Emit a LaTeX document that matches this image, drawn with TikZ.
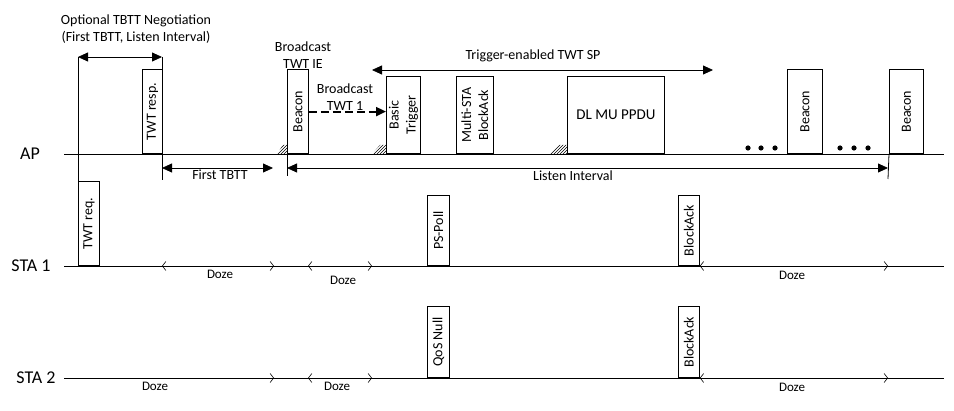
\documentclass[tikz,border=0pt]{standalone}
\usepackage{fontspec}
\setmainfont{Carlito}
\usetikzlibrary{arrows.meta,patterns}

\begin{document}
\begin{tikzpicture}[x=1pt, y=-1pt, line width=0.8pt,
	font=\fontsize{14}{17}\selectfont,
	pktbox/.style={draw, inner sep=0pt, anchor=south west},
	vtext/.style={rotate=90, inner sep=0pt, align=center},
	rowlbl/.style={font=\fontsize{18}{20}\selectfont, inner sep=0pt},
	dozelbl/.style={font=\fontsize{13}{15}\selectfont, inner sep=0pt},
	span/.style={{Triangle[length=10pt,width=9pt]}-{Triangle[length=10pt,width=9pt]}},
	doze/.style={{Straight Barb[length=3.5pt,width=9pt]}-{Straight Barb[length=3.5pt,width=9pt]}, line width=0.6pt},
	bcast/.style={-{Triangle[length=10pt,width=9pt]}, line width=2pt, dash pattern=on 8pt off 4pt},
	hatch/.style={pattern=north east lines}]
	\useasboundingbox (0,0) rectangle (954,411);

	% rows
	\node[rowlbl] (ap) at (30,154) {AP};
	\node[rowlbl] (sta1) at (31,266) {STA 1};
	\node[rowlbl] (sta2) at (36,378) {STA 2};
	\coordinate (apL) at (64,154);   \coordinate (apR) at (944,154);
	\coordinate (s1L) at (64,266);   \coordinate (s1R) at (944,266);
	\coordinate (s2L) at (64,378);   \coordinate (s2R) at (944,378);
	\draw (apL) -- (apR);
	\draw (s1L) -- (s1R);
	\draw (s2L) -- (s2R);

	% AP frames
	\node[pktbox, minimum width=20, minimum height=84] (resp) at (142,154) {};
	\node[vtext] at (resp) {TWT resp.};
	\node[pktbox, minimum width=21, minimum height=84] (bcn1) at (287,154) {};
	\node[vtext] at (bcn1) {Beacon};
	\node[pktbox, minimum width=34, minimum height=77] (trig) at (386,154) {};
	\node[vtext] at (trig) {Basic\\Trigger};
	\node[pktbox, minimum width=37, minimum height=77] (msba) at (456,154) {};
	\node[vtext] at (msba) {Multi-STA\\BlockAck};
	\node[pktbox, minimum width=97, minimum height=77] (dlmu) at (567,154) {};
	\node[font=\fontsize{15}{18}\selectfont] at (dlmu) {DL MU PPDU};
	\node[pktbox, minimum width=35, minimum height=84] (bcn2) at (787,154) {};
	\node[vtext] at (bcn2) {Beacon};
	\node[pktbox, minimum width=34, minimum height=84] (bcn3) at (889,154) {};
	\node[vtext] at (bcn3) {Beacon};

	% STA frames
	\node[pktbox, minimum width=21, minimum height=84] (req) at (78,266) {};
	\node[vtext] at (req) {TWT req.};
	\node[pktbox, minimum width=22, minimum height=70] (poll) at (427,266) {};
	\node[vtext] at (poll) {PS-Poll};
	\node[pktbox, minimum width=21, minimum height=70] (ack1) at (678,266) {};
	\node[vtext] at (ack1) {BlockAck};
	\node[pktbox, minimum width=22, minimum height=71] (qos) at (427,378) {};
	\node[vtext] at (qos) {QoS Null};
	\node[pktbox, minimum width=21, minimum height=71] (ack2) at (678,378) {};
	\node[vtext] at (ack2) {BlockAck};

	% medium access
	\fill[hatch] (277,154) -- (283,145) -- (287,145) -- (287,154) -- cycle;
	\fill[hatch] (372,154) -- (380,145) -- (386,145) -- (386,154) -- cycle;
	\fill[hatch] (550,154) -- (558,145) -- (567,145) -- (567,154) -- cycle;
	\foreach \x in {748,761,775,840,854,868}
		\fill (\x,148) circle[radius=2.6pt];

	% negotiation
	\coordinate (neg1) at (78,57);  \coordinate (neg2) at (162,57);
	\draw (neg1) -- (req.north west);
	\draw (neg2) -- (162,180);
	\draw[span] (neg1) -- (neg2);
	\node[align=center] (negtxt) at (136,29) {Optional TBTT Negotiation\\(First TBTT, Listen Interval)};

	% TBTT and listen interval
	\coordinate (tb1) at (162,168);  \coordinate (tb2) at (273,168);
	\draw[span] (tb1) -- (tb2);
	\node[inner sep=0pt] at (220,175) {First TBTT};
	\draw (bcn1.south west) -- (287,176);
	\draw (bcn3.south west) -- (888,179);
	\coordinate (li1) at (287,168);  \coordinate (li2) at (888,168);
	\draw[span] (li1) -- (li2);
	\node[inner sep=0pt] at (573,176) {Listen Interval};

	% broadcast TWT
	\node[align=center, inner sep=0pt] (ie) at (303,55) {Broadcast\\TWT IE};
	\draw[bcast] (bcn1.east) -- (bcn1.east -| trig.west);
	\node[align=center, inner sep=0pt] (twt1) at (345,97) {Broadcast\\TWT 1};
	\coordinate (sp1) at (372,70);  \coordinate (sp2) at (713,70);
	\draw[span] (sp1) -- (sp2);
	\node[inner sep=0pt] at (533,56) {Trigger-enabled TWT SP};

	% doze periods
	\coordinate (d1) at (162,266);  \coordinate (d2) at (274,266);
	\coordinate (d3) at (308,266);  \coordinate (d4) at (372,266);
	\coordinate (d5) at (888,266);
	\draw[doze] (d1) -- (d2);
	\draw[doze] (d3) -- (d4);
	\draw[doze] (ack1.south east) -- (d5);
	\node[dozelbl] at (220,274) {Doze};
	\node[dozelbl] at (343,280) {Doze};
	\node[dozelbl] at (792,275) {Doze};

	\coordinate (e1) at (274,378);
	\coordinate (e2) at (308,378);  \coordinate (e3) at (372,378);
	\coordinate (e4) at (888,378);
	\draw[-{Straight Barb[length=3.5pt,width=9pt]}, line width=0.6pt] (s2L) -- (e1);
	\draw[doze] (e2) -- (e3);
	\draw[doze] (ack2.south east) -- (e4);
	\node[dozelbl] at (155,386) {Doze};
	\node[dozelbl] at (337,386) {Doze};
	\node[dozelbl] at (792,387) {Doze};
\end{tikzpicture}
\end{document}
